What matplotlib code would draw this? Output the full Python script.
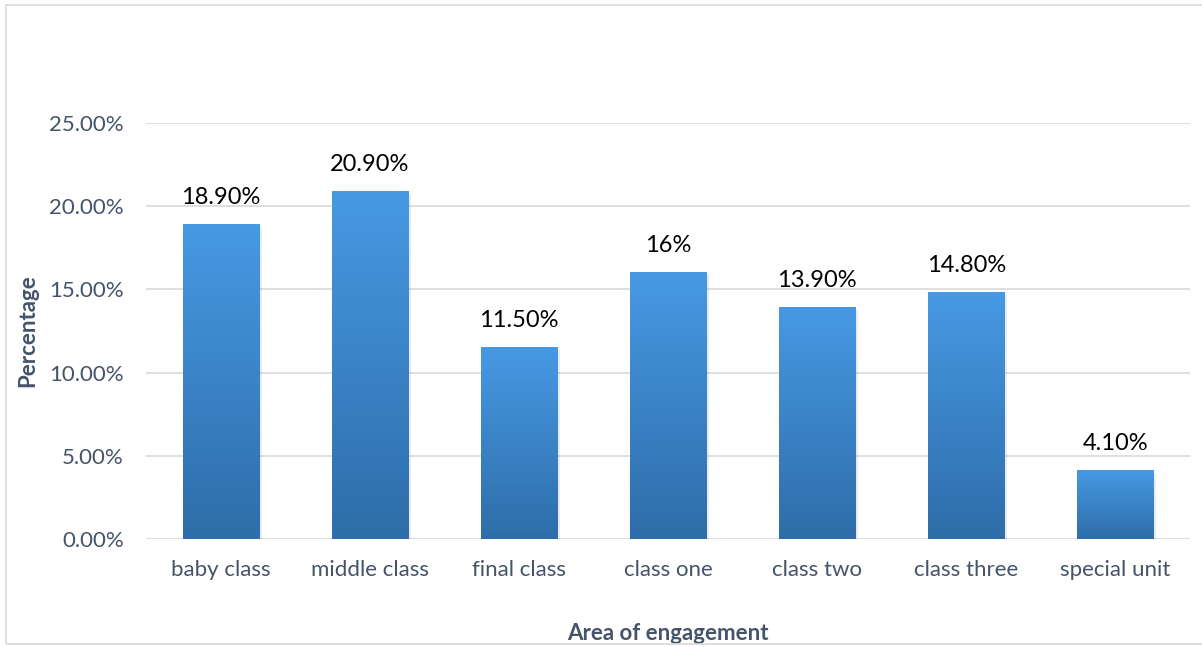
import numpy as np
import matplotlib.pyplot as plt
from matplotlib.colors import LinearSegmentedColormap
from matplotlib.patches import Rectangle

# Share of respondents by area of engagement
categories = ["baby class", "middle class", "final class", "class one",
              "class two", "class three", "special unit"]
values = [18.9, 20.9, 11.5, 16.0, 13.9, 14.8, 4.1]
value_labels = ["18.90%", "20.90%", "11.50%", "16%", "13.90%", "14.80%", "4.10%"]
y_ticks = [0, 5, 10, 15, 20, 25]

plt.rcParams['font.family'] = ['Lato', 'DejaVu Sans']
axis_grey = '#44546A'

fig = plt.figure(figsize=(12.02, 6.47), dpi=100)
fig.patches.append(Rectangle((6 / 1202, 0.005), 1.2, 1 - 5 / 647 - 0.005,
                             transform=fig.transFigure, fill=False,
                             edgecolor='#D9D9D9', linewidth=1.2))
ax = fig.add_axes([146 / 1202, 1 - 539 / 647, 1044 / 1202, 416 / 647])

x = np.arange(len(categories))
bars = ax.bar(x, values, width=0.51, color='none', zorder=3)

# vertical blue gradient inside each bar, lighter at the top
cmap = LinearSegmentedColormap.from_list('bar', ['#2E6DA9', '#4799E4'])
grad = np.linspace(0, 1, 256).reshape(-1, 1)
for b in bars:
    x0, y0, w, h = b.get_x(), b.get_y(), b.get_width(), b.get_height()
    ax.add_patch(Rectangle((x0 + 0.02, y0 - 0.15), w, h, color='#000000',
                           alpha=0.08, zorder=2, linewidth=0))
    ax.imshow(grad, cmap=cmap, origin='lower', aspect='auto',
              extent=(x0, x0 + w, y0, y0 + h), zorder=3)

for xi, v, lab in zip(x, values, value_labels):
    ax.text(xi, v + 1.0, lab, ha='center', va='bottom', fontsize=17,
            color='black', clip_on=False)

ax.set_xlim(-0.5, len(categories) - 0.5)
ax.set_ylim(0, 25)
ax.set_yticks(y_ticks)
ax.set_yticklabels([f"{t:.2f}%" for t in y_ticks])
ax.set_xticks(x)
ax.set_xticklabels(categories)
ax.tick_params(axis='both', length=0, labelsize=16, labelcolor=axis_grey)
ax.tick_params(axis='y', pad=16)
ax.tick_params(axis='x', pad=15)
ax.grid(axis='y', color='#D9D9D9', linewidth=1.2, zorder=0)
ax.set_axisbelow(True)
for s in ax.spines.values():
    s.set_visible(False)

ax.set_ylabel("Percentage", fontsize=16, fontweight='bold', color=axis_grey,
              labelpad=8)
ax.set_xlabel("Area of engagement", fontsize=16, fontweight='bold',
              color=axis_grey, labelpad=31)

fig.savefig('out.png', dpi=100)
